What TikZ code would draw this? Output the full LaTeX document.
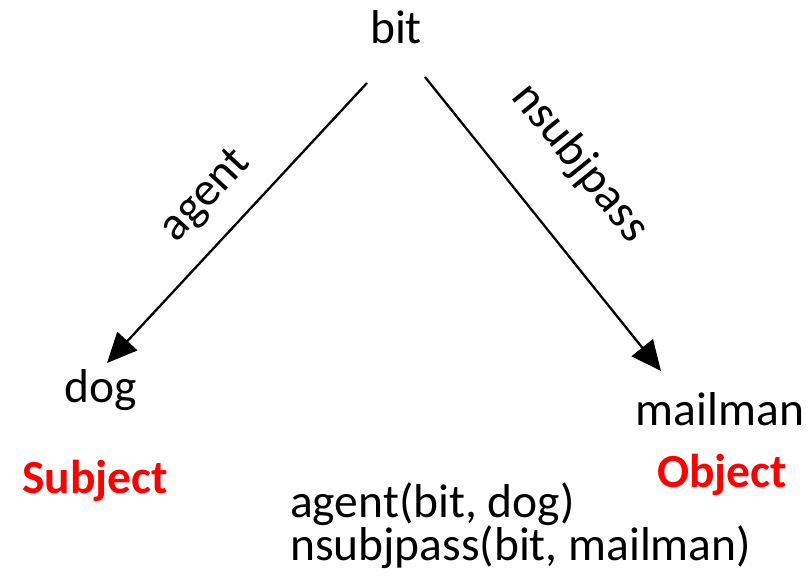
\documentclass[tikz,border=0pt]{standalone}
\usepackage{fontspec}
\setmainfont{Carlito}
\usetikzlibrary{arrows.meta}
\begin{document}
\begin{tikzpicture}[x=1pt,y=-1pt,
  txt/.style={inner sep=0pt, font=\fontsize{47.5}{50}\selectfont},
  word/.style={txt, anchor=base},
  role/.style={word, font=\fontsize{47.5}{50}\selectfont\bfseries, text=red},
  dep/.style={line width=2.3pt, -{Triangle[length=30pt,width=27pt]}}]
\useasboundingbox (0,0) rectangle (810,587);

% words of the sentence
\node[word] (bit) at (396,43) {bit};
\node[word] (dog) at (101,402) {dog};
\node[word] (mailman) at (720,425) {mailman};

% grammatical roles
\node[role] (subj) at (95,493) {Subject};
\node[role] (obj) at (722,487) {Object};

% dependency relations
\node[word, anchor=base west] (rel1) at (290,517) {agent(bit, dog)};
\node[word, anchor=base west] (rel2) at (290,560) {nsubjpass(bit, mailman)};

% arc end points
\coordinate (bitL) at (367,83);
\coordinate (bitR) at (425,77);
\coordinate (dogT) at (107,363);
\coordinate (mailT) at (661,371);

\draw[dep] (bitL) -- (dogT);
\draw[dep] (bitR) -- (mailT);

% arc labels
\node[txt, rotate=47] (lagent) at (206,196) {agent};
\node[txt, rotate=-51] (lnsubj) at (580,163) {nsubjpass};
\end{tikzpicture}
\end{document}
